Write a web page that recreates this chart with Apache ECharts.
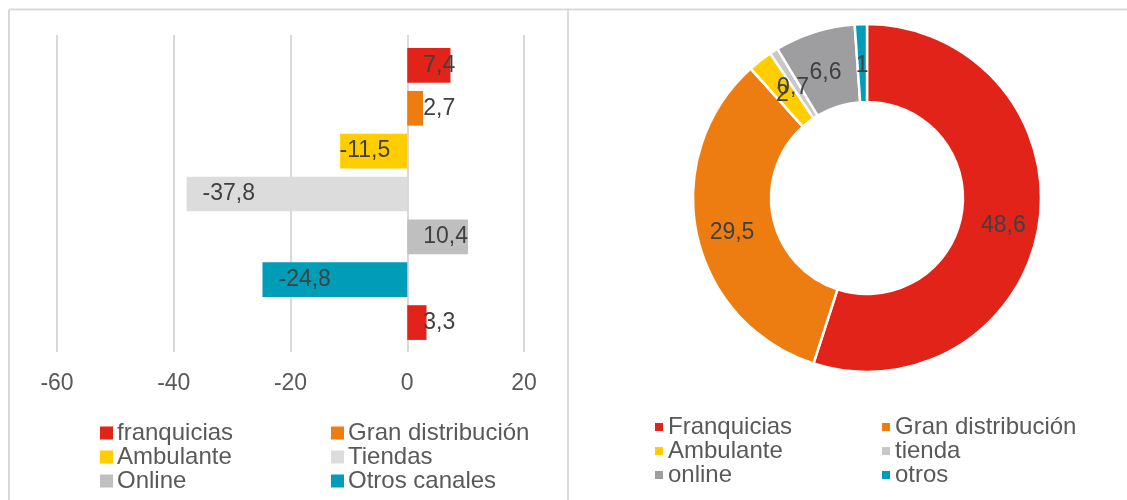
<!DOCTYPE html>
<html>
<head>
<meta charset="utf-8">
<script src="https://cdn.jsdelivr.net/npm/echarts@6/dist/echarts.min.js"></script>
<style>html,body{margin:0;padding:0;background:#fff}#c{width:1127px;height:500px}</style>
</head>
<body>
<div id="c"></div>
<script>
// ---- data ----
const categories = ['franquicias', 'Gran distribución', 'Ambulante', 'Tiendas', 'Online', 'Otros canales', 'Total'];
const barValues = [7.4, 2.7, -11.5, -37.8, 10.4, -24.8, 3.3];
const barSeriesNames = ['franquicias', 'Gran distribución', 'Ambulante', 'Tiendas', 'Online', 'Otros canales'];
const barSeriesOfCategory = [0, 1, 2, 3, 4, 5, 0];
const xMin = -60, xMax = 20, xStep = 20;
const pieNames = ['Franquicias', 'Gran distribución', 'Ambulante', 'tienda', 'online', 'otros'];
const pieValues = [48.6, 29.5, 2, 0.7, 6.6, 1];

// ---- styles ----
const barColors = ['#E2231A', '#EE7D11', '#FFCD00', '#DCDCDC', '#BFBFBF', '#009DB9'];
const pieColors = ['#E2231A', '#EE7D11', '#FFCD00', '#C8C8C8', '#9E9D9F', '#009DB9'];
const FONT = '"Liberation Sans", Arial, sans-serif';
const fmt = v => String(v).replace('.', ',');

const chart = echarts.init(document.getElementById('c'));

const barSeries = barSeriesNames.map((name, s) => ({
  type: 'bar',
  name: name,
  xAxisIndex: 1,
  yAxisIndex: 1,
  stack: 'all',
  barWidth: '81%',
  itemStyle: { color: barColors[s] },
  data: barValues.map((v, i) => {
    if (barSeriesOfCategory[i] !== s) return '-';
    const small = v < 0 && Math.abs(v) < 15;
    return {
      value: v,
      label: {
        show: true,
        position: small ? 'insideRight' : 'insideLeft',
        distance: small ? 17 : 16,
        formatter: p => fmt(p.value),
        color: '#404040',
        fontSize: 23,
        fontFamily: FONT
      }
    };
  })
}));

const lineStyle = { stroke: '#D9D9D9', lineWidth: 2 };
const legendBase = { orient: 'vertical', itemGap: 0, icon: 'rect', padding: 0, itemStyle: { borderWidth: 0 } };

chart.setOption({
  animation: false,
  textStyle: { fontFamily: FONT },
  graphic: [
    { type: 'line', shape: { x1: 9, y1: 9.5, x2: 1127, y2: 9.5 }, style: lineStyle, silent: true },
    { type: 'line', shape: { x1: 9, y1: 9.5, x2: 9, y2: 500 }, style: lineStyle, silent: true },
    { type: 'line', shape: { x1: 568, y1: 9.5, x2: 568, y2: 500 }, style: lineStyle, silent: true }
  ],
  grid: [
    { left: 57, width: 467, top: 35, height: 317 },
    { left: 57, width: 467, top: 44, height: 300 }
  ],
  xAxis: [
    {
      gridIndex: 0, type: 'value', min: xMin, max: xMax, interval: xStep,
      axisLine: { show: false }, axisTick: { show: false },
      splitLine: { show: true, lineStyle: { color: '#D9D9D9', width: 2 } },
      axisLabel: { color: '#595959', fontSize: 23, fontFamily: FONT, margin: 20, formatter: v => fmt(v) }
    },
    { gridIndex: 1, type: 'value', min: xMin, max: xMax, show: false, splitLine: { show: false } }
  ],
  yAxis: [
    { gridIndex: 0, type: 'value', show: false, splitLine: { show: false } },
    { gridIndex: 1, type: 'category', data: categories, inverse: true, show: false }
  ],
  legend: [
    Object.assign({}, legendBase, {
      left: 100, top: 421, itemWidth: 13, itemHeight: 13,
      data: [barSeriesNames[0], barSeriesNames[2], barSeriesNames[4]],
      textStyle: { color: '#595959', fontSize: 24, lineHeight: 23, fontFamily: FONT, padding: [0, 0, 0, -1] }
    }),
    Object.assign({}, legendBase, {
      left: 331, top: 421, itemWidth: 13, itemHeight: 13,
      data: [barSeriesNames[1], barSeriesNames[3], barSeriesNames[5]],
      textStyle: { color: '#595959', fontSize: 24, lineHeight: 23, fontFamily: FONT, padding: [0, 0, 0, -1] }
    }),
    Object.assign({}, legendBase, {
      left: 655, top: 415, itemWidth: 8, itemHeight: 8,
      data: [pieNames[0], pieNames[2], pieNames[4]],
      textStyle: { color: '#595959', fontSize: 24, lineHeight: 24, fontFamily: FONT }
    }),
    Object.assign({}, legendBase, {
      left: 882, top: 415, itemWidth: 8, itemHeight: 8,
      data: [pieNames[1], pieNames[3], pieNames[5]],
      textStyle: { color: '#595959', fontSize: 24, lineHeight: 24, fontFamily: FONT }
    })
  ],
  series: barSeries.concat([{
    type: 'pie',
    name: 'pie',
    center: [867, 198],
    radius: [96, 174],
    startAngle: 90,
    clockwise: true,
    avoidLabelOverlap: false,
    minShowLabelAngle: 0,
    labelLayout: { hideOverlap: false },
    itemStyle: { borderColor: '#ffffff', borderWidth: 2.5 },
    label: {
      show: true, position: 'inside', color: '#404040', fontSize: 23, fontFamily: FONT,
      offset: [0, 6],
      formatter: p => fmt(p.value)
    },
    labelLine: { show: false },
    emphasis: { disabled: true },
    data: pieNames.map((n, i) => ({ name: n, value: pieValues[i], itemStyle: { color: pieColors[i] } }))
  }])
});
</script>
</body>
</html>
